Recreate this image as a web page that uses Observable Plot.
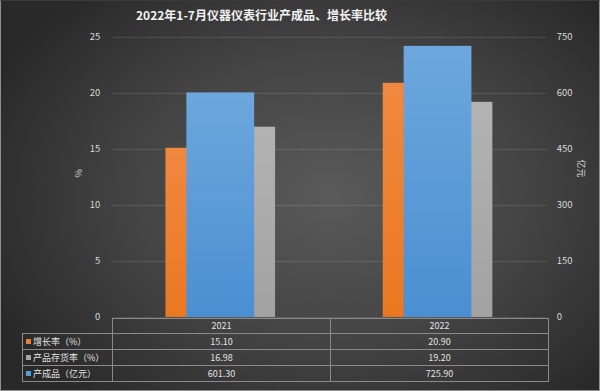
<!DOCTYPE html>
<html><head><meta charset="utf-8">
<script src="https://cdn.jsdelivr.net/npm/d3@7"></script>
<script src="https://cdn.jsdelivr.net/npm/@observablehq/plot@0.6"></script>
<style>
body{margin:0;background:#2b2b2b;}
#wrap{position:relative;box-sizing:border-box;width:600px;height:391px;overflow:hidden;border:1px solid #8f8f8f;border-top-color:#3a3a3a;
  background:radial-gradient(ellipse 62% 70% at 55% 50%, #5a5a5a 0%, #434343 55%, #292929 100%);
  font-family:"Noto Sans CJK SC","Noto Sans",sans-serif;}
#title{position:absolute;left:0;top:5px;width:521px;text-align:center;color:#f2f2f2;font-size:12px;font-weight:bold;}
#wrap svg{position:absolute;left:-1px;top:-1px;}
#tbl{position:absolute;top:317px;left:21px;border-collapse:collapse;table-layout:fixed;color:#e2e2e2;font-size:9px;}
#tbl td{border:1px solid #8a8a8a;padding:0;text-align:center;line-height:14px;height:14px;}
#tbl td.lab{text-align:left;padding-left:3px;white-space:nowrap;}
#tbl span.sw{display:inline-block;width:5px;height:5px;margin-right:2px;vertical-align:1px;}
</style></head>
<body><div id="wrap"><div id="title">2022年1-7月仪器仪表行业产成品、增长率比较</div></div>
<script>
const years = ["2021", "2022"];
const growth = [15.10, 20.90];      // 增长率（%）
const inventory = [16.98, 19.20];   // 产品存货率（%）
const output = [601.30, 725.90];    // 产成品（亿元）
const leftTicks = [0, 5, 10, 15, 20, 25];
const rightMax = 750, leftMax = 25;
const ratio = rightMax / leftMax;

const seriesNames = ["增长率（%）", "产品存货率（%）", "产成品（亿元）"];
const colors = ["#ED7D31", "#A5A5A5", "#5B9BD5"];

const pctData = [];
years.forEach((y, i) => {
  pctData.push({year: y, s: "增长率", v: growth[i]});
  pctData.push({year: y, s: "产品存货率", v: inventory[i]});
});
const outData = years.map((y, i) => ({year: y, v: output[i]}));

const chart = Plot.plot({
  width: 600, height: 391,
  marginTop: 37, marginBottom: 73, marginLeft: 112, marginRight: 52,
  style: {background: "transparent", color: "#d9d9d9", fontSize: "9.5px", fontFamily: "'Noto Sans CJK SC', sans-serif"},
  fx: {domain: years, axis: null, padding: 0},
  x: {domain: ["增长率", "产品存货率"], axis: null, paddingInner: 0, paddingOuter: 0.97},
  y: {domain: [0, leftMax], axis: null},
  marks: [
    Plot.gridY(leftTicks, {stroke: "#ffffff", strokeOpacity: 0.13}),
    Plot.axisY({anchor: "left", ticks: leftTicks, tickSize: 0, tickPadding: 12, label: null, fill: "#d9d9d9"}),
    Plot.axisY({anchor: "right", ticks: leftTicks, tickSize: 0, tickPadding: 10, label: null, tickFormat: d => d * ratio, fill: "#d9d9d9"}),
    Plot.barY(pctData, {fx: "year", x: "s", y: "v", fill: d => d.s === "增长率" ? "url(#gOrange)" : "url(#gGrey)"}),
    Plot.barY(outData, {fx: "year", y: d => d.v / ratio, fill: "url(#gBlue)", insetLeft: 75, insetRight: 75}),
    Plot.text(["%"], {fx: () => years[0], frameAnchor: "left", dx: -33, rotate: -90, fill: "#d9d9d9", fontSize: 9}),
    Plot.text(["亿元"], {fx: () => years[1], frameAnchor: "right", dx: 34, rotate: 90, fill: "#d9d9d9", fontSize: 9})
  ]
});

const defs = d3.select(chart).insert("defs", ":first-child");
function grad(id, top, bottom) {
  const g = defs.append("linearGradient").attr("id", id).attr("x1", 0).attr("y1", 0).attr("x2", 0).attr("y2", 1);
  g.append("stop").attr("offset", "0%").attr("stop-color", top);
  g.append("stop").attr("offset", "100%").attr("stop-color", bottom);
}
grad("gOrange", "#F0883F", "#EA7822");
grad("gGrey", "#B3B3B3", "#A2A2A2");
grad("gBlue", "#6DA7DD", "#4A8FD2");

const wrap = document.getElementById("wrap");
wrap.appendChild(chart);

// data table aligned to the fx scale
const fx = chart.scale("fx");
const bw = fx.bandwidth;
const x0 = fx.apply(years[0]);
const labW = x0 - 22;
const tbl = document.createElement("table");
tbl.id = "tbl";
let html = `<colgroup><col style="width:${labW}px">` + years.map(() => `<col style="width:${bw}px">`).join("") + `</colgroup>`;
html += `<tr><td style="border-top-style:hidden;border-left-style:hidden"></td>` + years.map(y => `<td>${y}</td>`).join("") + `</tr>`;
const rows = [growth, inventory, output];
rows.forEach((vals, r) => {
  html += `<tr style="height:16px"><td class="lab" style="line-height:15px"><span class="sw" style="background:${colors[r]}"></span>${seriesNames[r]}</td>` +
    vals.map(v => `<td style="line-height:15px">${v.toFixed(2)}</td>`).join("") + `</tr>`;
});
tbl.innerHTML = html;
wrap.appendChild(tbl);
</script>
</body></html>
